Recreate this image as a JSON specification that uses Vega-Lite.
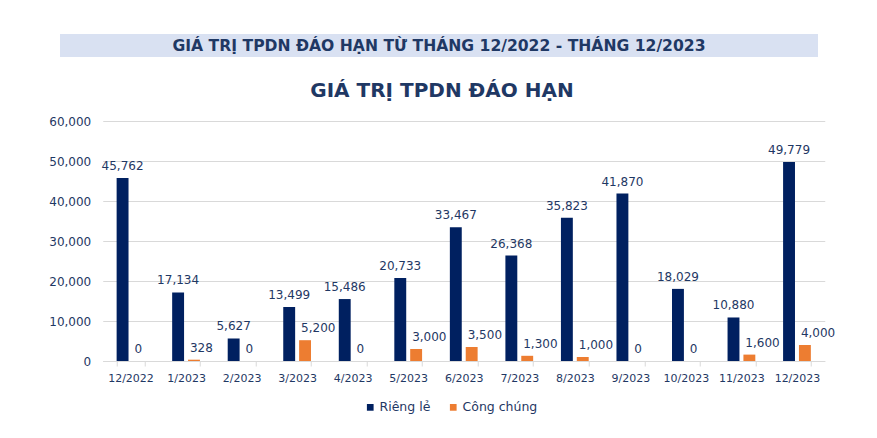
{
  "$schema": "https://vega.github.io/schema/vega-lite/v6.json",
  "background": "white",
  "padding": {"left": 48, "top": 34, "right": 5, "bottom": 5},
  "config": {
    "view": {"stroke": null},
    "font": "DejaVu Sans",
    "concat": {"spacing": 24}
  },
  "center": true,
  "vconcat": [
    {
      "spacing": 0,
      "hconcat": [
        {
          "width": 758,
          "height": 23,
          "view": {"fill": "#D9E1F2", "stroke": null},
          "data": {"values": [{"banner": "GIÁ TRỊ TPDN ĐÁO HẠN TỪ THÁNG 12/2022 - THÁNG 12/2023"}]},
          "mark": {"type": "text", "font": "DejaVu Sans", "fontWeight": "bold", "fontSize": 15.6, "color": "#1F3864", "baseline": "middle", "align": "center"},
          "encoding": {"text": {"field": "banner"}}
        },
        {
          "width": 60,
          "height": 23,
          "data": {"values": []},
          "mark": {"type": "text"},
          "encoding": {}
        }
      ]
    },
    {
      "width": 722,
      "height": 240,
      "title": {
        "text": "GIÁ TRỊ TPDN ĐÁO HẠN",
        "font": "DejaVu Sans",
        "fontSize": 20,
        "fontWeight": "bold",
        "color": "#1F3864",
        "anchor": "middle",
        "frame": "bounds",
        "offset": 14
      },
      "data": {
        "values": [
          {"month": "12/2022", "type": "Riêng lẻ", "value": 45762},
          {"month": "12/2022", "type": "Công chúng", "value": 0},
          {"month": "1/2023", "type": "Riêng lẻ", "value": 17134},
          {"month": "1/2023", "type": "Công chúng", "value": 328},
          {"month": "2/2023", "type": "Riêng lẻ", "value": 5627},
          {"month": "2/2023", "type": "Công chúng", "value": 0},
          {"month": "3/2023", "type": "Riêng lẻ", "value": 13499},
          {"month": "3/2023", "type": "Công chúng", "value": 5200},
          {"month": "4/2023", "type": "Riêng lẻ", "value": 15486},
          {"month": "4/2023", "type": "Công chúng", "value": 0},
          {"month": "5/2023", "type": "Riêng lẻ", "value": 20733},
          {"month": "5/2023", "type": "Công chúng", "value": 3000},
          {"month": "6/2023", "type": "Riêng lẻ", "value": 33467},
          {"month": "6/2023", "type": "Công chúng", "value": 3500},
          {"month": "7/2023", "type": "Riêng lẻ", "value": 26368},
          {"month": "7/2023", "type": "Công chúng", "value": 1300},
          {"month": "8/2023", "type": "Riêng lẻ", "value": 35823},
          {"month": "8/2023", "type": "Công chúng", "value": 1000},
          {"month": "9/2023", "type": "Riêng lẻ", "value": 41870},
          {"month": "9/2023", "type": "Công chúng", "value": 0},
          {"month": "10/2023", "type": "Riêng lẻ", "value": 18029},
          {"month": "10/2023", "type": "Công chúng", "value": 0},
          {"month": "11/2023", "type": "Riêng lẻ", "value": 10880},
          {"month": "11/2023", "type": "Công chúng", "value": 1600},
          {"month": "12/2023", "type": "Riêng lẻ", "value": 49779},
          {"month": "12/2023", "type": "Công chúng", "value": 4000}
        ]
      },
      "encoding": {
        "x": {
          "field": "month",
          "type": "nominal",
          "sort": null,
          "scale": {"paddingInner": 0.5, "paddingOuter": 0.25},
          "axis": {
            "title": null,
            "labelAngle": 0,
            "labelFontSize": 11,
            "labelColor": "#1F3864",
            "domainColor": "#D9D9D9",
            "tickColor": "#D9D9D9",
            "tickBand": "extent",
            "tickSize": 5,
            "labelPadding": 6
          }
        },
        "xOffset": {
          "field": "type",
          "type": "nominal",
          "sort": ["Riêng lẻ", "Công chúng"],
          "scale": {"paddingInner": 0.25}
        },
        "y": {
          "field": "value",
          "type": "quantitative",
          "scale": {"domain": [0, 60000]},
          "axis": {
            "title": null,
            "values": [0, 10000, 20000, 30000, 40000, 50000, 60000],
            "format": ",.0f",
            "domain": false,
            "ticks": false,
            "tickSize": 0,
            "labelPadding": 12,
            "labelFontSize": 12,
            "labelColor": "#1F3864",
            "gridColor": "#D9D9D9"
          }
        }
      },
      "layer": [
        {
          "mark": {"type": "bar"},
          "encoding": {
            "color": {
              "field": "type",
              "type": "nominal",
              "scale": {"domain": ["Riêng lẻ", "Công chúng"], "range": ["#002060", "#ED7D31"]},
              "legend": {
                "title": null,
                "orient": "none",
                "legendX": 304,
                "legendY": 367,
                "direction": "horizontal",
                "symbolType": "square",
                "symbolSize": 45,
                "symbolStrokeWidth": 0,
                "labelFontSize": 12.5,
                "labelColor": "#1F3864",
                "labelOffset": 3,
                "columnPadding": 16
              }
            }
          }
        },
        {
          "transform": [{"filter": "datum.type === 'Riêng lẻ'"}],
          "mark": {"type": "text", "baseline": "alphabetic", "dy": -8, "fontSize": 12, "color": "#1F3864"},
          "encoding": {
            "text": {"field": "value", "type": "quantitative", "format": ","}
          }
        },
        {
          "transform": [{"filter": "datum.type === 'Công chúng'"}],
          "mark": {"type": "text", "baseline": "alphabetic", "align": "left", "dx": -4, "dy": -8, "fontSize": 12, "color": "#1F3864"},
          "encoding": {
            "text": {"field": "value", "type": "quantitative", "format": ","}
          }
        }
      ]
    }
  ]
}
